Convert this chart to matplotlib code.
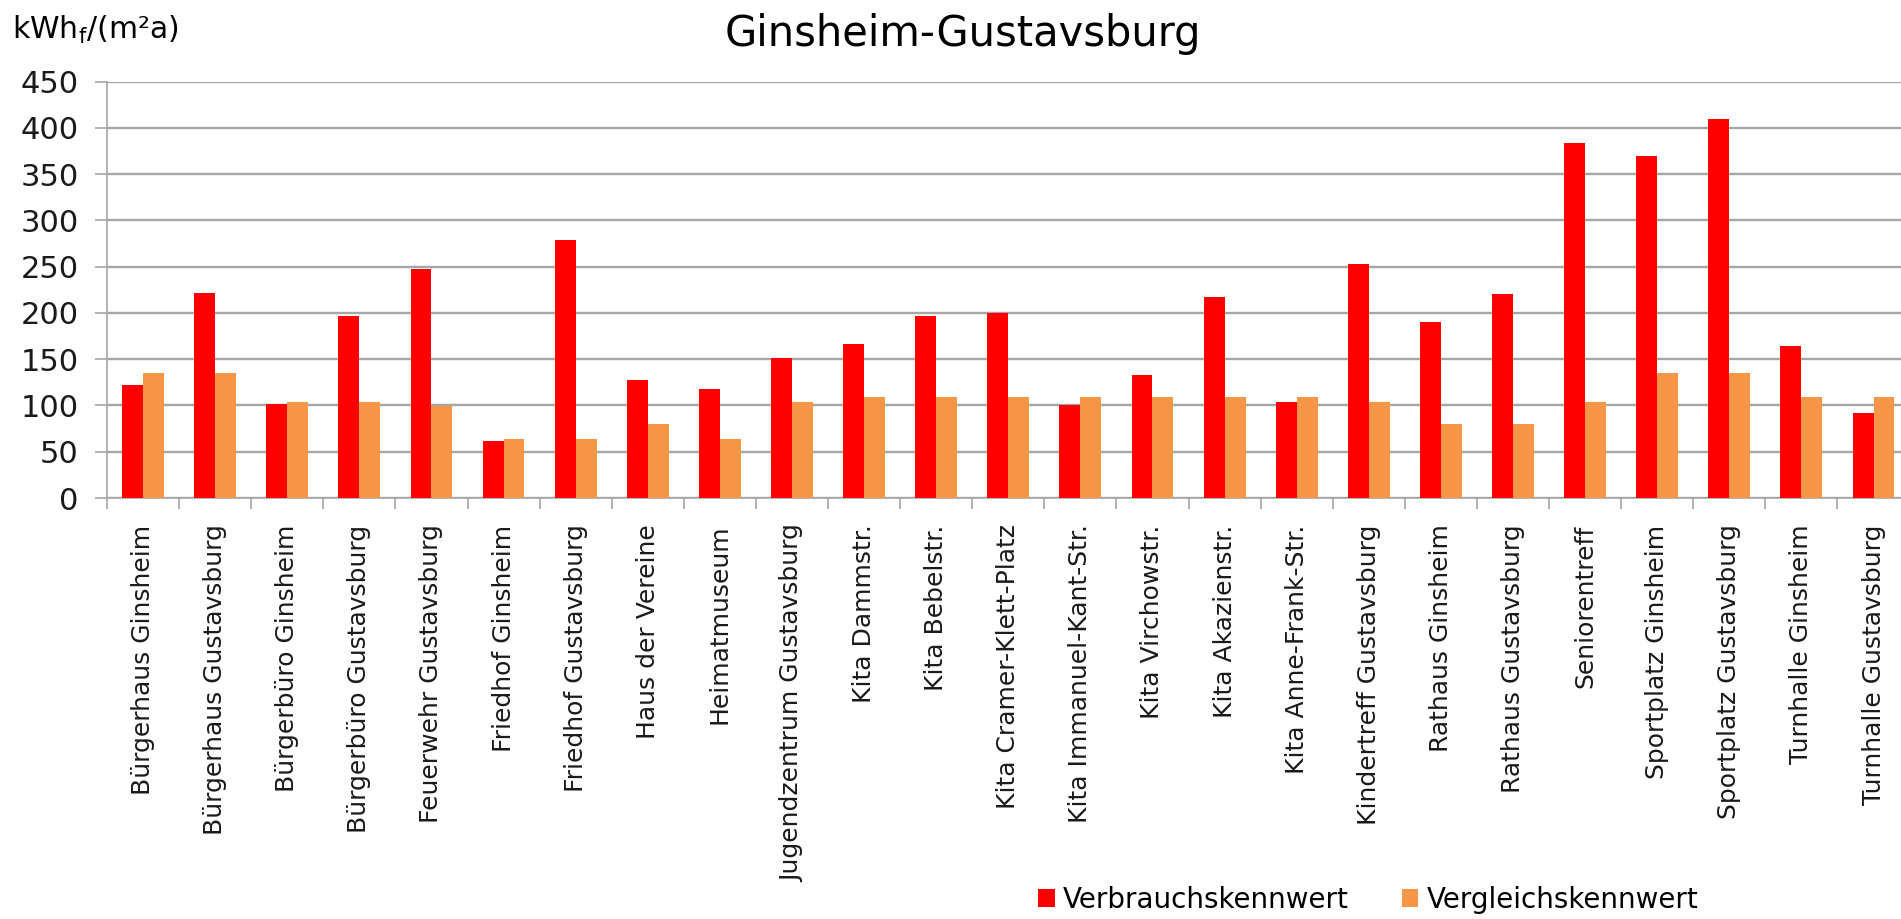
import matplotlib
matplotlib.use('Agg')
import matplotlib.pyplot as plt
import numpy as np

# building names (x categories)
gebaeude = [
    'Bürgerhaus Ginsheim', 'Bürgerhaus Gustavsburg', 'Bürgerbüro Ginsheim',
    'Bürgerbüro Gustavsburg', 'Feuerwehr Gustavsburg', 'Friedhof Ginsheim',
    'Friedhof Gustavsburg', 'Haus der Vereine', 'Heimatmuseum',
    'Jugendzentrum Gustavsburg', 'Kita Dammstr.', 'Kita Bebelstr.',
    'Kita Cramer-Klett-Platz', 'Kita Immanuel-Kant-Str.', 'Kita Virchowstr.',
    'Kita Akazienstr.', 'Kita Anne-Frank-Str.', 'Kindertreff Gustavsburg',
    'Rathaus Ginsheim', 'Rathaus Gustavsburg', 'Seniorentreff',
    'Sportplatz Ginsheim', 'Sportplatz Gustavsburg', 'Turnhalle Ginsheim',
    'Turnhalle Gustavsburg',
]

# kWh_f/(m²a)
verbrauch = [122, 221, 102, 197, 247, 62, 279, 127, 118, 151, 166, 197, 200,
             101, 133, 217, 104, 253, 190, 220, 384, 370, 409, 164, 92]
vergleich = [135, 135, 104, 104, 99, 64, 64, 80, 64, 104, 109, 109, 109,
             109, 109, 109, 109, 104, 80, 80, 104, 135, 135, 109, 109]

yticks = [0, 50, 100, 150, 200, 250, 300, 350, 400, 450]

grau = '#A6A6A6'

fig = plt.figure(figsize=(19.01, 9.19), dpi=100)
ax = fig.add_axes([0.0563, 0.4581, 0.9482, 0.4532])

x = np.arange(len(gebaeude))
bw = 0.29
b1 = ax.bar(x - bw / 2, verbrauch, bw, color='#FF0000', label='Verbrauchskennwert', zorder=3)
b2 = ax.bar(x + bw / 2, vergleich, bw, color='#F79646', label='Vergleichskennwert', zorder=3)

ax.set_xlim(-0.5, len(gebaeude) - 0.5)
ax.set_ylim(0, 450)
ax.set_yticks(yticks)
ax.yaxis.grid(True, color=grau, linewidth=1.7, zorder=0)
ax.set_axisbelow(True)

for s in ['top', 'right']:
    ax.spines[s].set_visible(False)
for s in ['left', 'bottom']:
    ax.spines[s].set_color(grau)
    ax.spines[s].set_linewidth(1.2)

ax.tick_params(axis='y', length=8.5, width=1.2, color=grau, pad=12, labelsize=22,
               labelcolor='#1a1a1a')

# labels at centres, tick marks at category boundaries
ax.set_xticks(x)
ax.set_xticklabels(gebaeude, rotation=90, fontsize=18, color='#1a1a1a')
ax.tick_params(axis='x', which='major', length=0, pad=19)
ax.set_xticks(np.arange(len(gebaeude) + 1) - 0.5, minor=True)
ax.tick_params(axis='x', which='minor', length=8, width=1.2, color=grau)

fig.text(963 / 1901, 1 - 34 / 919, 'Ginsheim-Gustavsburg', ha='center', va='center', fontsize=30)
fig.text(12 / 1901, 1 - 30 / 919, r'kWh$_\mathrm{f}$/(m²a)', ha='left', va='center', fontsize=21.5)

fig.legend(handles=[b1, b2], loc='center left', bbox_to_anchor=(1038 / 1901, 1 - 900 / 919),
           ncol=2, frameon=False, fontsize=20, handlelength=0.6, handleheight=0.6,
           handletextpad=0.3, columnspacing=1.9, borderpad=0, borderaxespad=0)

plt.savefig('out.png', dpi=100)
